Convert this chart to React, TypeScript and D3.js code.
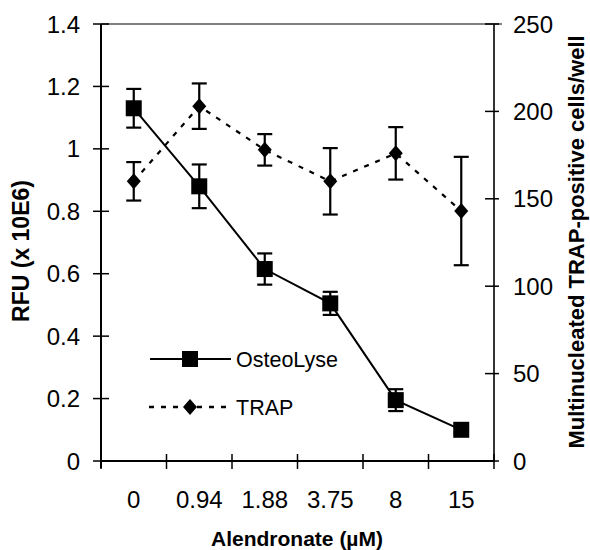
import React from "react";
import * as d3 from "d3";

const doses = ["0", "0.94", "1.88", "3.75", "8", "15"];
const osteoLyse = [1.13, 0.88, 0.615, 0.505, 0.195, 0.1];
const osteoErr = [0.062, 0.07, 0.05, 0.037, 0.035, 0.01];
const trap = [160, 203, 178, 160, 176, 143];
const trapErr = [11, 13, 9, 19, 15, 31];
const leftTicks = [0, 0.2, 0.4, 0.6, 0.8, 1, 1.2, 1.4];
const rightTicks = [0, 50, 100, 150, 200, 250];

const W = 590;
const H = 550;
const m = { left: 101, right: 494, top: 24, bottom: 461 };
const font = "'Liberation Sans', Arial, sans-serif";

const App = () => {
  const x = d3.scaleBand<string>().domain(doses).range([m.left, m.right]);
  const yL = d3.scaleLinear().domain([0, 1.4]).range([m.bottom, m.top]);
  const yR = d3.scaleLinear().domain([0, 250]).range([m.bottom, m.top]);
  const cx = (d: string) => (x(d) as number) + x.bandwidth() / 2;

  const line = d3.line<[number, number]>();
  const osteoPts = doses.map((d, i) => [cx(d), yL(osteoLyse[i])] as [number, number]);
  const trapPts = doses.map((d, i) => [cx(d), yR(trap[i])] as [number, number]);

  const errBar = (xx: number, y1: number, y2: number, key: string) => (
    <g key={key} stroke="#000" strokeWidth={2.2}>
      <line x1={xx} x2={xx} y1={y1} y2={y2} />
      <line x1={xx - 7.5} x2={xx + 7.5} y1={y1} y2={y1} />
      <line x1={xx - 7.5} x2={xx + 7.5} y1={y2} y2={y2} />
    </g>
  );
  const square = (xx: number, yy: number, key: string) => (
    <rect key={key} x={xx - 8} y={yy - 8} width={16} height={16} fill="#000" />
  );
  const diamond = (xx: number, yy: number, key: string) => (
    <path key={key} d={`M${xx},${yy - 8}L${xx + 7},${yy}L${xx},${yy + 8}L${xx - 7},${yy}Z`} fill="#000" />
  );

  const ticksX = [...doses.map((d) => x(d) as number), m.right];

  return (
    <svg width={W} height={H} style={{ position: "absolute", left: 0, top: 0 }} fontFamily={font}>
      <rect width={W} height={H} fill="#fff" />
      {/* frame */}
      <line x1={m.left} x2={m.right + 8} y1={m.top} y2={m.top} stroke="#808080" strokeWidth={2} />
      <line x1={m.right} x2={m.right} y1={m.top} y2={m.bottom} stroke="#333" strokeWidth={2} />
      <line x1={m.left} x2={m.left} y1={m.top} y2={m.bottom + 7} stroke="#000" strokeWidth={2} />
      <line x1={m.left - 1} x2={m.right + 1} y1={m.bottom} y2={m.bottom} stroke="#000" strokeWidth={2} />

      {/* left axis */}
      {leftTicks.map((t) => (
        <g key={"l" + t}>
          <line x1={m.left - 8} x2={m.left + 8} y1={yL(t)} y2={yL(t)} stroke="#000" strokeWidth={1.5} />
          <text x={80} y={yL(t) + 8.5} textAnchor="end" fontSize={24}>{t}</text>
        </g>
      ))}
      {/* right axis */}
      {rightTicks.map((t) => (
        <g key={"r" + t}>
          <line x1={m.right - 9} x2={m.right + 5} y1={yR(t)} y2={yR(t)} stroke="#000" strokeWidth={1.5} />
          <text x={513} y={yR(t) + 8.5} fontSize={24}>{t}</text>
        </g>
      ))}
      {/* x axis */}
      {ticksX.map((tx, i) => (
        <line key={"x" + i} x1={tx} x2={tx} y1={m.bottom - 7} y2={m.bottom + 8} stroke="#000" strokeWidth={1.5} />
      ))}
      {doses.map((d) => (
        <text key={"xl" + d} x={cx(d)} y={508} textAnchor="middle" fontSize={24}>{d}</text>
      ))}

      {/* titles */}
      <text x={297} y={546} textAnchor="middle" fontSize={21} fontWeight="bold">Alendronate (µM)</text>
      <text transform={`translate(29,251) rotate(-90)`} textAnchor="middle" fontSize={23} fontWeight="bold">RFU (x 10E6)</text>
      <text transform={`translate(584,242) rotate(-90)`} textAnchor="middle" fontSize={22} fontWeight="bold">Multinucleated TRAP-positive cells/well</text>

      {/* TRAP series */}
      <path d={line(trapPts) || ""} fill="none" stroke="#000" strokeWidth={2.2} strokeDasharray="5,7" />
      {doses.map((d, i) => errBar(cx(d), yR(trap[i] + trapErr[i]), yR(trap[i] - trapErr[i]), "te" + i))}
      {trapPts.map((p, i) => diamond(p[0], p[1], "td" + i))}

      {/* OsteoLyse series */}
      <path d={line(osteoPts) || ""} fill="none" stroke="#000" strokeWidth={2} />
      {doses.map((d, i) => errBar(cx(d), yL(osteoLyse[i] + osteoErr[i]), yL(osteoLyse[i] - osteoErr[i]), "oe" + i))}
      {osteoPts.map((p, i) => square(p[0], p[1], "os" + i))}

      {/* legend */}
      <line x1={150} x2={231} y1={359} y2={359} stroke="#000" strokeWidth={2} />
      {square(190, 359, "ls")}
      <text x={236} y={367} fontSize={21.5}>OsteoLyse</text>
      <line x1={149} x2={232} y1={407} y2={407} stroke="#000" strokeWidth={2.5} strokeDasharray="5,7" />
      {diamond(190, 407, "ld")}
      <text x={236} y={415} fontSize={21.5}>TRAP</text>
    </svg>
  );
};

export default App;
